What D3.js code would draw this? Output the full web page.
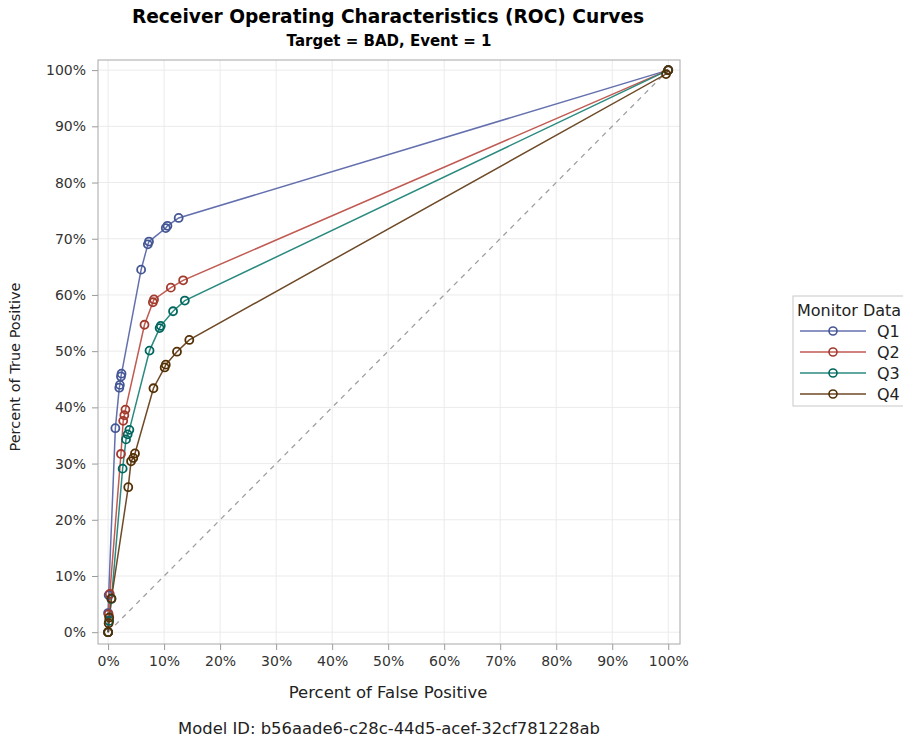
<!DOCTYPE html>
<html>
<head>
<meta charset="utf-8">
<script src="https://cdn.jsdelivr.net/npm/d3@7"></script>
<style>
  body { margin: 0; background: #fff; }
  svg { font-family: "DejaVu Sans", sans-serif; }
</style>
</head>
<body>
<div id="vis"><svg></svg></div>
<script>
// series (percent false positive / percent true positive)
var seriesNames = ["Q1", "Q2", "Q3", "Q4"];
var q1Fpr = [0, 0, 0.1, 1.3, 2.0, 2.1, 2.3, 2.4, 5.9, 7.1, 7.3, 10.3, 10.6, 12.6, 100];
var q1Tpr = [0, 3.4, 6.6, 36.3, 43.5, 44.0, 45.5, 46.0, 64.5, 69.0, 69.5, 71.9, 72.3, 73.7, 100];
var q2Fpr = [0, 0.1, 0.3, 2.3, 2.7, 2.9, 3.1, 6.5, 8.0, 8.2, 11.2, 13.4, 100];
var q2Tpr = [0, 3.2, 6.8, 31.7, 37.6, 38.6, 39.6, 54.7, 58.7, 59.2, 61.3, 62.6, 100];
var q3Fpr = [0, 0.2, 0.6, 2.6, 3.2, 3.5, 3.8, 7.4, 9.2, 9.4, 11.6, 13.7, 100];
var q3Tpr = [0, 2.0, 5.9, 29.1, 34.3, 35.2, 36.0, 50.1, 54.1, 54.5, 57.1, 59.0, 100];
var q4Fpr = [0, 0.1, 0.2, 0.6, 3.6, 4.1, 4.5, 4.8, 8.1, 10.1, 10.3, 12.3, 14.5, 99.6, 100];
var q4Tpr = [0, 1.6, 2.6, 6.0, 25.8, 30.4, 31.0, 31.8, 43.4, 47.1, 47.6, 49.9, 52.0, 99.3, 100];
var tickValues = [0, 10, 20, 30, 40, 50, 60, 70, 80, 90, 100];

var lineColors = ["#6470ae", "#c05a52", "#2a8a7f", "#6e4a28"];
var markerColors = ["#445694", "#a23a2e", "#01665e", "#543005"];

var fprs = [q1Fpr, q2Fpr, q3Fpr, q4Fpr];
var tprs = [q1Tpr, q2Tpr, q3Tpr, q4Tpr];
var series = seriesNames.map(function(name, i) {
    return { name: name, points: fprs[i].map(function(f, j) { return { x: f, y: tprs[i][j] }; }) };
});

var svg = d3.select("#vis").select("svg")
    .attr("width", 903)
    .attr("height", 738);

var x = d3.scaleLinear().domain([-1.8, 102.1]).range([98, 680]);
var y = d3.scaleLinear().domain([-2.1, 101.8]).range([644, 60]);

// grid
svg.append("g").selectAll("line").data(tickValues).join("line")
    .attr("x1", d => x(d)).attr("x2", d => x(d))
    .attr("y1", 60).attr("y2", 644)
    .attr("stroke", "#ebebeb");
svg.append("g").selectAll("line").data(tickValues).join("line")
    .attr("y1", d => y(d)).attr("y2", d => y(d))
    .attr("x1", 98).attr("x2", 680)
    .attr("stroke", "#ebebeb");

// axes
var fmt = function(d) { return d + "%"; };
var xAxis = svg.append("g")
    .attr("transform", "translate(0,644)")
    .call(d3.axisBottom(x).tickValues(tickValues).tickFormat(fmt).tickSize(6).tickSizeOuter(0));
var yAxis = svg.append("g")
    .attr("transform", "translate(98,0)")
    .call(d3.axisLeft(y).tickValues(tickValues).tickFormat(fmt).tickSize(6).tickPadding(6).tickSizeOuter(0));
[xAxis, yAxis].forEach(function(a) {
    a.select(".domain").remove();
    a.selectAll(".tick line").attr("stroke", "#9a9a9a");
    a.selectAll(".tick text").attr("fill", "#333").style("font-size", "14px")
        .style("font-family", "'DejaVu Sans', sans-serif");
});
xAxis.selectAll(".tick text").attr("dy", "0.95em");

// frame
svg.append("rect")
    .attr("x", 98).attr("y", 60)
    .attr("width", 582).attr("height", 584)
    .attr("fill", "none")
    .attr("stroke", "#a8a8a8");

// diagonal reference
svg.append("line")
    .attr("x1", x(0)).attr("y1", y(0))
    .attr("x2", x(100)).attr("y2", y(100))
    .attr("stroke", "#a0a0a0")
    .attr("stroke-width", 1.3)
    .attr("stroke-dasharray", "5,5");

var line = d3.line().x(d => x(d.x)).y(d => y(d.y));

series.forEach(function(s, i) {
    svg.append("path")
        .datum(s.points)
        .attr("fill", "none")
        .attr("stroke", lineColors[i])
        .attr("stroke-width", 1.5)
        .attr("d", line);
});
series.forEach(function(s, i) {
    svg.append("g").selectAll("circle").data(s.points).join("circle")
        .attr("cx", d => x(d.x))
        .attr("cy", d => y(d.y))
        .attr("r", 4)
        .attr("fill", "none")
        .attr("stroke", markerColors[i])
        .attr("stroke-width", 1.8);
});

// titles
svg.append("text")
    .attr("x", 388).attr("y", 23)
    .attr("text-anchor", "middle")
    .style("font-size", "18.6px").style("font-weight", "bold")
    .text("Receiver Operating Characteristics (ROC) Curves");
svg.append("text")
    .attr("x", 389).attr("y", 46)
    .attr("text-anchor", "middle")
    .style("font-size", "15px").style("font-weight", "bold")
    .text("Target = BAD, Event = 1");
svg.append("text")
    .attr("x", 388).attr("y", 698)
    .attr("text-anchor", "middle")
    .style("font-size", "16.5px").attr("fill", "#222")
    .text("Percent of False Positive");
svg.append("text")
    .attr("transform", "translate(20,367) rotate(-90)")
    .attr("text-anchor", "middle")
    .style("font-size", "14.5px").attr("fill", "#222")
    .text("Percent of True Positive");
svg.append("text")
    .attr("x", 389).attr("y", 734)
    .attr("text-anchor", "middle")
    .style("font-size", "16.4px").attr("fill", "#222")
    .text("Model ID: b56aade6-c28c-44d5-acef-32cf781228ab");

// legend
var legend = svg.append("g").attr("transform", "translate(793,296)");
legend.append("rect")
    .attr("width", 112).attr("height", 110)
    .attr("fill", "#fff").attr("stroke", "#c8c8c8");
legend.append("text")
    .attr("x", 4).attr("y", 20)
    .style("font-size", "16px").attr("fill", "#222")
    .text("Monitor Data");
var item = legend.selectAll(".item").data(series).join("g")
    .attr("transform", (d, i) => "translate(0," + (35 + i * 21) + ")");
item.append("line")
    .attr("x1", 7).attr("x2", 73)
    .attr("stroke", (d, i) => lineColors[i])
    .attr("stroke-width", 1.5);
item.append("circle")
    .attr("cx", 40).attr("r", 4)
    .attr("fill", "none")
    .attr("stroke", (d, i) => markerColors[i])
    .attr("stroke-width", 1.6);
item.append("text")
    .attr("x", 84).attr("y", 6)
    .style("font-size", "16px").attr("fill", "#222")
    .text(d => d.name);
</script>
</body>
</html>
